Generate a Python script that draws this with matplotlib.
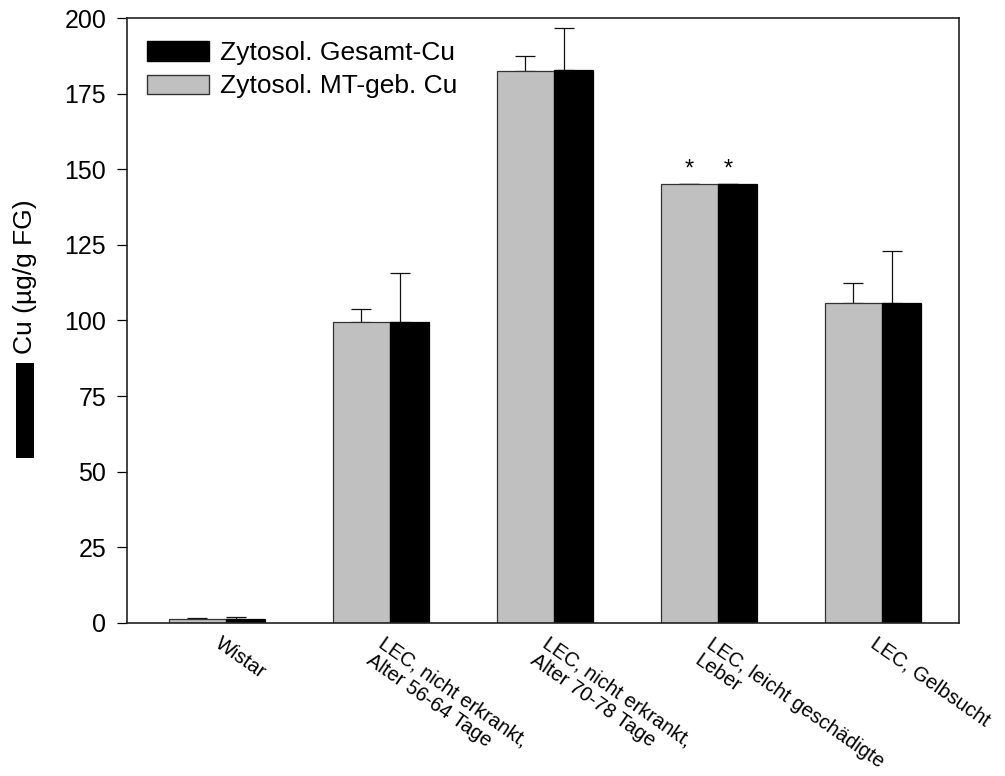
import numpy as np
import matplotlib
matplotlib.use("Agg")
import matplotlib.pyplot as plt
import matplotlib.transforms as mtransforms
from matplotlib.patches import Rectangle

plt.rcParams['font.family'] = ['Liberation Sans', 'DejaVu Sans']

# groups and values (Cu in ug/g FG)
groups = ['Wistar',
          'LEC, nicht erkrankt,\nAlter 56-64 Tage',
          'LEC, nicht erkrankt,\nAlter 70-78 Tage',
          'LEC, leicht geschädigte\nLeber',
          'LEC, Gelbsucht']
mt_cu = [1.3, 99.4, 182.5, 145.0, 105.7]
mt_err = [0.3, 4.4, 5.0, 0.0, 6.8]
total_cu = [1.4, 99.5, 182.8, 145.0, 105.8]
total_err = [0.6, 16.2, 13.8, 0.0, 17.2]
signif = [False, False, False, True, False]

x = np.arange(len(groups))
grey_w = 0.347
black_w = 0.238
grey_left = x - 0.293
boundary = grey_left + grey_w

fig = plt.figure(figsize=(10.05, 7.76), dpi=100)
ax = fig.add_axes([0.1264, 0.1972, 0.8278, 0.7796])

ax.bar(grey_left, mt_cu, width=grey_w, align='edge', color='#c0c0c0',
       edgecolor='#333333', linewidth=0.9, zorder=2)
ax.bar(boundary, total_cu, width=black_w, align='edge', color='black',
       edgecolor='black', linewidth=0.9, zorder=2)

zeros = np.zeros(len(x))
ax.errorbar(grey_left + grey_w / 2, mt_cu, yerr=[zeros, mt_err], fmt='none',
            ecolor='#111111', elinewidth=0.9, capsize=7.2, capthick=0.9, zorder=1)
ax.errorbar(boundary + 0.063, total_cu, yerr=[zeros, total_err], fmt='none',
            ecolor='#111111', elinewidth=0.9, capsize=7.2, capthick=0.9, zorder=1)

for i in range(len(x)):
    if signif[i]:
        ax.text(grey_left[i] + grey_w / 2, mt_cu[i] + 1.2, '*', ha='center',
                va='bottom', fontsize=17)
        ax.text(boundary[i] + 0.063, total_cu[i] + 1.2, '*', ha='center',
                va='bottom', fontsize=17)

ax.set_xlim(-0.549, 4.524)
ax.set_ylim(0, 200)
ax.set_yticks(np.arange(0, 201, 25))
ax.tick_params(axis='y', labelsize=18, length=7, width=0.9, direction='out', pad=8)
ax.set_xticks(x)
ax.set_xticklabels(groups, rotation=-35, ha='left', va='top',
                   rotation_mode='anchor', fontsize=14.5, linespacing=1.1)
ax.tick_params(axis='x', length=0, pad=8)
shift = mtransforms.ScaledTranslation(5 / 100, 0, fig.dpi_scale_trans)
for lbl in ax.get_xticklabels():
    lbl.set_transform(lbl.get_transform() + shift)
for s in ax.spines.values():
    s.set_linewidth(1.2)
    s.set_color('#222222')

handles = [Rectangle((0, 0), 1, 1, facecolor='black', edgecolor='black'),
           Rectangle((0, 0), 1, 1, facecolor='#c0c0c0', edgecolor='#333333')]
ax.legend(handles, ['Zytosol. Gesamt-Cu', 'Zytosol. MT-geb. Cu'],
          loc='upper left', bbox_to_anchor=(0.024, 0.962), frameon=False,
          fontsize=19, handlelength=2.35, handleheight=0.76,
          handletextpad=0.4, labelspacing=0.36, borderpad=0, borderaxespad=0)

# y label with its series marker underneath
fig.text(25 / 1005, 1 - 277 / 776, 'Cu (µg/g FG)', rotation=90,
         ha='center', va='center', fontsize=19)
fig.patches.append(Rectangle((16 / 1005, 1 - 458 / 776), 18 / 1005, 95 / 776,
                             transform=fig.transFigure, facecolor='black',
                             edgecolor='none'))

fig.savefig('out.png', dpi=100)
